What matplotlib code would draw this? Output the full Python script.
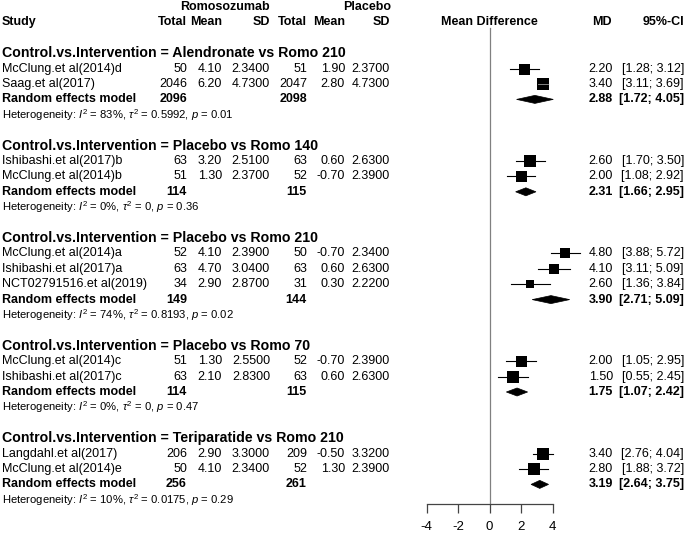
import matplotlib
matplotlib.use("Agg")
import matplotlib.pyplot as plt
from matplotlib.patches import Polygon

plt.rcParams['font.family'] = ['Liberation Sans', 'DejaVu Sans']
plt.rcParams['mathtext.fontset'] = 'custom'
plt.rcParams['mathtext.rm'] = 'Liberation Sans'
plt.rcParams['mathtext.it'] = 'Liberation Sans:italic'
plt.rcParams['mathtext.bf'] = 'Liberation Sans:bold'

# ---------------- data ----------------
groups = ["Alendronate vs Romo 210", "Placebo vs Romo 140", "Placebo vs Romo 210",
          "Placebo vs Romo 70", "Teriparatide vs Romo 210"]
study = ["McClung.et al(2014)d", "Saag.et al(2017)",
         "Ishibashi.et al(2017)b", "McClung.et al(2014)b",
         "McClung.et al(2014)a", "Ishibashi.et al(2017)a", "NCT02791516.et al(2019)",
         "McClung.et al(2014)c", "Ishibashi.et al(2017)c",
         "Langdahl.et al(2017)", "McClung.et al(2014)e"]
group_idx = [0, 0, 1, 1, 2, 2, 2, 3, 3, 4, 4]
romo_n = [50, 2046, 63, 51, 52, 63, 34, 51, 63, 206, 50]
romo_mean = [4.10, 6.20, 3.20, 1.30, 4.10, 4.70, 2.90, 1.30, 2.10, 2.90, 4.10]
romo_sd = [2.34, 4.73, 2.51, 2.37, 2.39, 3.04, 2.87, 2.55, 2.83, 3.30, 2.34]
plac_n = [51, 2047, 63, 52, 50, 63, 31, 52, 63, 209, 52]
plac_mean = [1.90, 2.80, 0.60, -0.70, -0.70, 0.60, 0.30, -0.70, 0.60, -0.50, 1.30]
plac_sd = [2.37, 4.73, 2.63, 2.39, 2.34, 2.63, 2.22, 2.39, 2.63, 3.32, 2.39]
md = [2.20, 3.40, 2.60, 2.00, 4.80, 4.10, 2.60, 2.00, 1.50, 3.40, 2.80]
ci_lo = [1.28, 3.11, 1.70, 1.08, 3.88, 3.11, 1.36, 1.05, 0.55, 2.76, 1.88]
ci_hi = [3.12, 3.69, 3.50, 2.92, 5.72, 5.09, 3.84, 2.95, 2.45, 4.04, 3.72]
weight = [11, 12.5, 12, 11, 10, 10, 8.5, 11, 12, 12, 12]   # relative box size

re_n_romo = [2096, 114, 149, 114, 256]
re_n_plac = [2098, 115, 144, 115, 261]
re_md = [2.88, 2.31, 3.90, 1.75, 3.19]
re_lo = [1.72, 1.66, 2.71, 1.07, 2.64]
re_hi = [4.05, 2.95, 5.09, 2.42, 3.75]
het_i2 = ["83%", "0%", "74%", "0%", "10%"]
het_tau2 = ["0.5992", "0", "0.8193", "0", "0.0175"]
het_p = ["0.01", "0.36", "0.02", "0.47", "0.29"]

x_ticks = [-4, -2, 0, 2, 4]

# ---------------- layout ----------------
W, H = 685, 535
Y0, DY = 7.0, 15.4          # pixel y of row 0 and row spacing
AX_Y = 504                  # pixel y of x axis line
fig = plt.figure(figsize=(W / 100, H / 100), dpi=100)

# text axes: x in pixels, y in rows
tax = fig.add_axes([0, 0, 1, 1])
tax.set_xlim(0, W)
tax.set_ylim((H - Y0) / DY, -Y0 / DY)
tax.axis('off')

# forest axes
x_px0, x_px1 = 426.5, 552.5
fax = fig.add_axes([x_px0 / W, (H - AX_Y) / H, (x_px1 - x_px0) / W, AX_Y / H])
fax.set_xlim(-4, 4)
fax.set_ylim((AX_Y - Y0) / DY, -Y0 / DY)
fax.patch.set_alpha(0)
for s in ['top', 'right', 'left']:
    fax.spines[s].set_visible(False)
fax.spines['bottom'].set_color('#444444')
fax.spines['bottom'].set_linewidth(0.9)
fax.set_yticks([])
fax.set_xticks(x_ticks)
fax.set_xticklabels([str(t) for t in x_ticks])
fax.tick_params(axis='x', direction='out', length=6.5, width=0.9, color='#444444',
                pad=6, labelsize=9.5)

FS = 9.0
FS_TITLE = 10.2
FS_HET = 8.1
COL = dict(rn=187, rm=222, rsd=270, pn=307, pm=345, psd=390, md=613, ci=684)

def t(x, row, s, ha='left', bold=False, fs=FS):
    tax.text(x, row, s, ha=ha, va='center', fontsize=fs,
             fontweight='bold' if bold else 'normal', color='black')

# headers
t(270, 0, "Romosozumab", ha='right', bold=True)
t(391, 0, "Placebo", ha='right', bold=True)
t(2, 1, "Study", bold=True)
for key, lab in [('rn', 'Total'), ('rm', 'Mean'), ('rsd', 'SD'),
                 ('pn', 'Total'), ('pm', 'Mean'), ('psd', 'SD')]:
    t(COL[key], 1, lab, ha='right', bold=True)
t(489.5, 1, "Mean Difference", ha='center', bold=True)
t(612, 1, "MD", ha='right', bold=True)
t(684, 1, "95%-CI", ha='right', bold=True)

# reference line
fax.plot([0, 0], [(AX_Y - Y0) / DY, (28 - Y0) / DY], color='#808080', lw=0.9,
         clip_on=False, zorder=1)

row = 3
for g, gname in enumerate(groups):
    t(2, row, "Control.vs.Intervention = " + gname, bold=True, fs=FS_TITLE)
    row += 1
    for i in [j for j, gi in enumerate(group_idx) if gi == g]:
        t(2, row, study[i])
        t(COL['rn'], row, f"{romo_n[i]}", ha='right')
        t(COL['rm'], row, f"{romo_mean[i]:.2f}", ha='right')
        t(COL['rsd'], row, f"{romo_sd[i]:.4f}", ha='right')
        t(COL['pn'], row, f"{plac_n[i]}", ha='right')
        t(COL['pm'], row, f"{plac_mean[i]:.2f}", ha='right')
        t(COL['psd'], row, f"{plac_sd[i]:.4f}", ha='right')
        t(COL['md'], row, f"{md[i]:.2f}", ha='right')
        t(COL['ci'], row, f"[{ci_lo[i]:.2f}; {ci_hi[i]:.2f}]", ha='right')
        fax.plot([ci_lo[i], ci_hi[i]], [row, row], color='black', lw=0.8,
                 clip_on=False, zorder=2)
        fax.plot([md[i]], [row], marker='s', ms=weight[i] * 0.72, color='black',
                 mec='black', mew=0, clip_on=False, zorder=3)
        # CI inside box drawn lighter
        half = weight[i] / 2 / 15.75
        lo_in, hi_in = max(ci_lo[i], md[i] - half), min(ci_hi[i], md[i] + half)
        if ci_hi[i] - ci_lo[i] < 2 * half:
            fax.plot([lo_in, hi_in], [row, row], color='#9a9a9a', lw=0.6,
                     clip_on=False, zorder=4)
        row += 1
    # random effects
    t(2, row, "Random effects model", bold=True)
    t(COL['rn'], row, f"{re_n_romo[g]}", ha='right', bold=True)
    t(COL['pn'], row, f"{re_n_plac[g]}", ha='right', bold=True)
    t(COL['md'], row, f"{re_md[g]:.2f}", ha='right', bold=True)
    t(COL['ci'], row, f"[{re_lo[g]:.2f}; {re_hi[g]:.2f}]", ha='right', bold=True)
    hh = 0.26
    fax.add_patch(Polygon([[re_lo[g], row], [re_md[g], row - hh],
                           [re_hi[g], row], [re_md[g], row + hh]],
                          closed=True, facecolor='black', edgecolor='black',
                          lw=0.5, clip_on=False, zorder=3))
    row += 1
    t(2, row, "Heterogeneity: $\\mathit{I}^{2}$ = " + het_i2[g]
      + ", $\\tau^{2}$ = " + het_tau2[g] + ", $\\mathit{p}$ = " + het_p[g],
      fs=FS_HET)
    row += 2

fig.savefig("out.png", dpi=100)
